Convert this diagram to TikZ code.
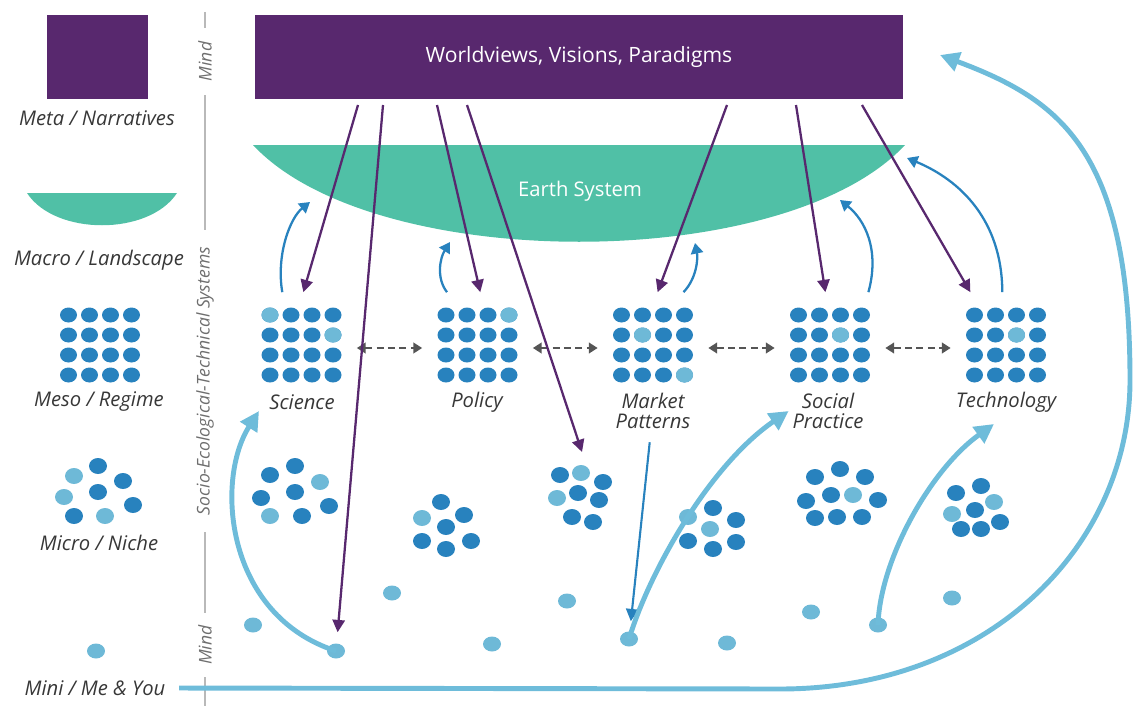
\documentclass[tikz,border=0pt]{standalone}
\usepackage{fontspec}
\setmainfont{Open Sans}
\usetikzlibrary{arrows.meta,shapes.geometric}

\definecolor{wvpurple}{RGB}{88,40,110}
\definecolor{earthgreen}{RGB}{80,192,166}
\definecolor{dotdark}{RGB}{40,130,190}
\definecolor{dotlight}{RGB}{110,185,215}
\definecolor{arrowlight}{RGB}{110,188,218}
\definecolor{linegray}{RGB}{185,185,185}
\definecolor{dashgray}{RGB}{85,85,85}
\definecolor{lbltext}{RGB}{55,55,55}
\definecolor{sidetext}{RGB}{110,110,110}

\tikzset{lvllbl/.style={font=\fontsize{11.5}{11}\selectfont\itshape, text=lbltext, align=center, inner sep=2pt},
    sidelbl/.style={font=\fontsize{10}{12}\selectfont\itshape, text=sidetext, rotate=90, inner sep=0pt},
    regime/.style={minimum width=2.2cm, minimum height=2.1cm, inner sep=0pt},
    minddot/.style={ellipse, fill=dotlight, minimum width=0.36cm, minimum height=0.3cm, inner sep=0pt},
    topdown/.style={wvpurple, line width=1.3pt, -{Triangle[length=7pt,width=7pt]}},
    feedback/.style={dotdark, line width=1.3pt, -{Triangle[length=6pt,width=7pt]}},
    descent/.style={dotdark, line width=1.2pt, -{Triangle[length=7pt,width=7pt]}},
    leap/.style={arrowlight, line width=2.8pt, -{Triangle[length=11pt,width=11pt]}},
    regimelink/.style={dashgray, line width=1.4pt, dash pattern=on 4pt off 2.5pt,
        {Triangle[length=5pt,width=6pt]}-{Triangle[length=5pt,width=6pt]}},
    divider/.style={linegray, line width=1.6pt},
    }

\begin{document}
\begin{tikzpicture}[x=0.02cm, y=-0.02cm]
\useasboundingbox (0,0) rectangle (1135,706);

% legend column
\node[fill=wvpurple, minimum width=2.02cm, minimum height=1.68cm] (metabox) at (97.5,57) {};
\fill[earthgreen] (27,193) .. controls (55,236) and (149,236) .. (177,193) -- cycle;
\node[minddot] (minidot) at (96,651) {};
\node[lvllbl] (metalbl) at (97,118) {Meta / Narratives};
\node[lvllbl] (macrolbl) at (99,260) {Macro / Landscape};
\node[lvllbl] (mesolbl) at (99,402) {Meso / Regime};
\node[lvllbl] (microlbl) at (99,543) {Micro / Niche};
\node[lvllbl] (minilbl) at (95,688) {Mini / Me \& You};

% divider
\node[sidelbl, minimum width=1.34cm] (mindtop) at (205,61.5) {Mind};
\node[sidelbl, minimum width=6.04cm] (setlbl) at (205,381) {Socio-Ecological-Technical Systems};
\node[sidelbl, minimum width=1.28cm] (mindlow) at (205,645) {Mind};
\draw[divider] (205,12) -- (mindtop.east) (mindtop.west) -- (setlbl.east)
    (setlbl.west) -- (mindlow.east) (mindlow.west) -- (205,706);

% landscape
\node[fill=wvpurple, minimum width=12.96cm, minimum height=1.68cm, text=white,
    font=\fontsize{12}{14}\selectfont] (wv) at (579,57) {Worldviews, Visions, Paradigms};
\fill[earthgreen] (253,145) .. controls (373,274) and (785,274) .. (905,145) -- cycle;
\node[text=white, font=\fontsize{11.5}{14}\selectfont] (earth) at (580,191) {Earth System};

% regimes
\foreach \gx in {100,301.5,477.5,653,830,1006}
    \foreach \c in {0,...,3}
        \foreach \r in {0,...,3}
            \fill[dotdark] (\gx-31.5+21*\c, 315+20*\r) ellipse [x radius=8.5, y radius=7.5];
\foreach \x/\y in {270/315, 333/335, 509/315, 642.5/335, 684.5/375, 840.5/335, 1016.5/335}
    \fill[dotlight] (\x,\y) ellipse [x radius=8.5, y radius=7.5];
\node[regime] (science) at (301.5,345) {};
\node[regime] (policy) at (477.5,345) {};
\node[regime] (market) at (653,345) {};
\node[regime] (social) at (830,345) {};
\node[regime] (technology) at (1006,345) {};
\node[lvllbl] (sciencelbl) at (302,402) {Science};
\node[lvllbl] (policylbl) at (477,402) {Policy};
\node[lvllbl] (marketlbl) at (653,411) {Market\\Patterns};
\node[lvllbl] (sociallbl) at (828,411) {Social\\Practice};
\node[lvllbl] (technologylbl) at (1006,402) {Technology};
\draw[regimelink] ([yshift=-0.06cm]science.east) -- ([yshift=-0.06cm]policy.west);
\draw[regimelink] ([yshift=-0.06cm]policy.east) -- ([yshift=-0.06cm]market.west);
\draw[regimelink] ([yshift=-0.06cm]market.east) -- ([yshift=-0.06cm]social.west);
\draw[regimelink] ([yshift=-0.06cm]social.east) -- ([yshift=-0.06cm]technology.west);

% niches
\foreach \x/\y in {98/466, 123/481, 98/492, 133/505, 74/516,
    295/466, 270/475, 295/492, 261/498, 329/506, 302/516,
    441/502, 464/515, 446/527, 422/541, 471/541, 446/549,
    560/475, 603/482, 578/493, 599/500, 572/517, 593/522,
    713/508, 736/520, 688/541, 736/542, 713/549,
    840/469, 815/477, 865/477, 831/495, 806/501, 878/500, 815/518, 837/517, 862/517,
    981/486, 956/493, 975/510, 1000/522, 961/529, 981/529}
    \fill[dotdark] (\x,\y) ellipse [x radius=9, y radius=8];
\foreach \x/\y in {74/476, 64/497, 105/516, 320/482, 270/516, 422/518, 581/473, 557/498,
    688/517, 710/529, 853/495, 994/502, 952/514}
    \fill[dotlight] (\x,\y) ellipse [x radius=9, y radius=8];

% minds
\foreach \x/\y [count=\k] in {253/625, 336/651, 392/593, 492/644, 567/601,
    629/639, 727/643, 811/612, 878/625, 952/598}
    \node[minddot] (m\k) at (\x,\y) {};

% top-down
\coordinate (w1) at (358,105);
\coordinate (w2) at (383,105);
\coordinate (w3) at (437,105);
\coordinate (w4) at (467,105);
\coordinate (w5) at (727,105);
\coordinate (w6) at (796,105);
\coordinate (w7) at (862,105);
\coordinate (nmarket) at (582,452);
\draw[topdown] (w1) -- (science.88);
\draw[topdown, shorten >=0.22cm] (w2) -- (m2);
\draw[topdown] (w3) -- (policy.87);
\draw[topdown] (w4) -- (nmarket);
\draw[topdown] (w5) -- (market.85);
\draw[topdown] (w6) -- (social.95);
\draw[topdown] (w7) -- (technology.124);

% feedback to earth system
\coordinate (e1) at (310,202);
\coordinate (e2) at (450,242);
\coordinate (e3) at (695,243);
\coordinate (e4) at (840,200);
\coordinate (e5) at (907,158);
\draw[feedback] (science.110) .. controls (276,255) and (290,218) .. (e1);
\draw[feedback] (policy.120) .. controls (436,278) and (440,258) .. (e2);
\draw[feedback] (market.60) .. controls (697,278) and (698,258) .. (e3);
\draw[feedback] (social.54) .. controls (880,250) and (865,220) .. (e4);
\draw[feedback] (technology.94) .. controls (1002,220) and (960,180) .. (e5);
\draw[descent, shorten <=0.2cm, shorten >=0.2cm] (marketlbl) -- (m6);

% bottom-up
\coordinate (sciencein) at (259,411);
\coordinate (techin) at (994,424);
\coordinate (wvin) at (940,55);
\draw[leap] (m2.center) .. controls (225,615) and (215,480) .. (sciencein);
\draw[leap] (m6.center) .. controls (650,570) and (710,465) .. (sociallbl.west);
\draw[leap] (m9.center) .. controls (880,560) and (930,470) .. (techin);
\draw[leap, shorten <=0.2cm] (minilbl.east) -- (780,689) .. controls (990,689) and (1130,545) .. (1130,380)
    .. controls (1130,150) and (1060,100) .. (wvin);
\end{tikzpicture}
\end{document}
